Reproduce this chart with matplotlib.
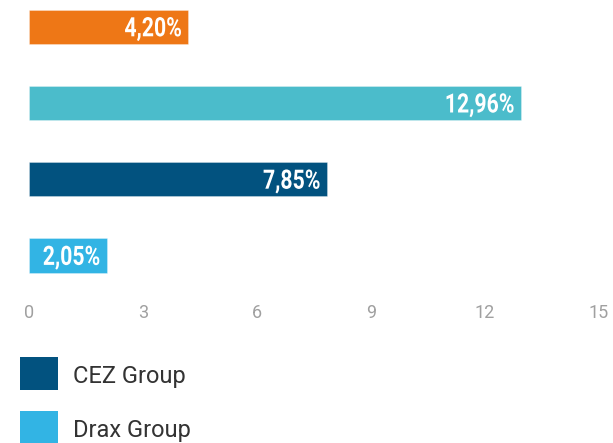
import matplotlib
matplotlib.use("Agg")
import matplotlib.pyplot as plt
import matplotlib.transforms as mtransforms
from matplotlib.patches import Rectangle, PathPatch
from matplotlib.textpath import TextPath
from matplotlib.font_manager import FontProperties

# --- data -------------------------------------------------------------
values = [4.20, 12.96, 7.85, 2.05]
value_labels = ["4,20%", "12,96%", "7,85%", "2,05%"]
bar_colors = ["#EE7716", "#4BBCCB", "#02527F", "#32B4E4"]
legend_names = ["CEZ Group", "Drax Group"]
legend_colors = ["#02527F", "#32B4E4"]
x_ticks = [0, 3, 6, 9, 12, 15]

# --- figure / axes ----------------------------------------------------
W, H = 613, 443
fig = plt.figure(figsize=(W / 100, H / 100), dpi=100)
ax_top, ax_bottom = 0, 296
ax = fig.add_axes([29 / W, 1 - ax_bottom / H, 569.5 / W, (ax_bottom - ax_top) / H])

pitch = 76.2          # pixel distance between bar centres
first_center = 26.8   # pixel y of first bar centre
positions = list(range(len(values)))
ax.barh(positions, values, height=34.5 / pitch, color=bar_colors,
        edgecolor=(1, 1, 1, 0.35), linewidth=0.6)

ax.set_xlim(0, 15)
ax.set_ylim((ax_bottom - first_center) / pitch, (ax_top - first_center) / pitch)
ax.set_xticks(x_ticks)
ax.set_xticklabels([str(t) for t in x_ticks], fontsize=13,
                   family="Roboto", color="#A0A0A0")
ax.tick_params(axis="x", length=0, pad=6)
ax.set_yticks([])
for s in ax.spines.values():
    s.set_visible(False)

# --- value labels: condensed bold numerals drawn as scaled text paths --
fp = FontProperties(family="Roboto", weight="bold")


def tpath(s):
    return TextPath((0, 0), s, size=1, prop=fp)


digit_ext = tpath("0").get_extents()
sy = 19.5 / digit_ext.height
sx = 67 / tpath("12,96%").get_extents().width
digit_mid = (digit_ext.y0 + digit_ext.y1) / 2

for pos, val, lab in zip(positions, values, value_labels):
    p = tpath(lab)
    e = p.get_extents()
    trf = (mtransforms.Affine2D()
           .translate(-e.x1, -digit_mid)
           .scale(sx, sy)
           .translate(-7.5, 0)
           + mtransforms.ScaledTranslation(val, pos, ax.transData))
    fig.add_artist(PathPatch(p, transform=trf, facecolor="white",
                             edgecolor="none"))

# --- legend -----------------------------------------------------------
for k, (name, col) in enumerate(zip(legend_names, legend_colors)):
    top = 357 + 54 * k
    fig.add_artist(Rectangle((20 / W, 1 - (top + 33) / H), 38 / W, 33 / H,
                             transform=fig.transFigure, facecolor=col,
                             edgecolor="none"))
    fig.text(73 / W, 1 - (top + 26.5) / H, name, fontsize=17,
             family="Roboto", color="#333333", va="baseline", ha="left")

fig.savefig("out.png", dpi=100)
